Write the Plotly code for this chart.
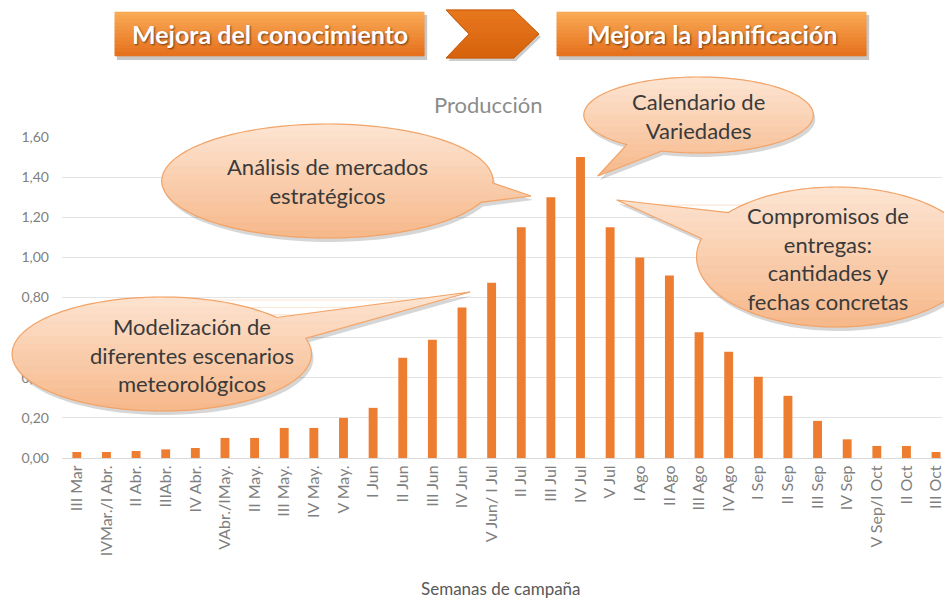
import math
import plotly.graph_objects as go

semanas = ["III Mar", "IVMar./I Abr.", "II Abr.", "IIIAbr.", "IV Abr.", "VAbr./IMay.",
           "II May.", "III May.", "IV May.", "V May.", "I Jun", "II Jun", "III Jun",
           "IV Jun", "V Jun/ I Jul", "II Jul", "III Jul", "IV Jul", "V Jul", "I Ago",
           "II Ago", "III Ago", "IV Ago", "I Sep", "II Sep", "III Sep", "IV Sep",
           "V Sep/I Oct", "II Oct", "III Oct"]
produccion = [0.03, 0.03, 0.035, 0.043, 0.05, 0.10, 0.10, 0.15, 0.15, 0.20, 0.25, 0.50,
              0.59, 0.75, 0.874, 1.15, 1.30, 1.50, 1.15, 1.00, 0.91, 0.627, 0.53, 0.405,
              0.31, 0.185, 0.093, 0.06, 0.06, 0.03]
y_ticks = [0, 0.2, 0.4, 0.6, 0.8, 1.0, 1.2, 1.4, 1.6]

titulo = "Producción"
eje_x = "Semanas de campaña"
etapas = ["Mejora del conocimiento", "Mejora la planificación"]
mensajes = ["Modelización de<br>diferentes escenarios<br>meteorológicos",
            "Análisis de mercados<br>estratégicos",
            "Calendario de<br>Variedades",
            "Compromisos de<br>entregas:<br>cantidades y<br>fechas concretas"]

# the page body adds an 8px margin on every side, so the figure sits 8px in
# from the corner and must stay inside the visible window
OFF = 8
W, H = 952 - 2 * OFF, 606 - 2 * OFF
L, R, T, B = 62, 952 - OFF, 137, 458   # plot area in screen pixels
FONT = "Lato"


def px(x):
    return (x - L) / (R - L)


def py(y):
    return (B - y) / (B - T)


def to_path(pts):
    s = "M " + " L ".join(f"{px(x):.5f},{py(y):.5f}" for x, y in pts)
    return s + " Z"


def clip_strip(poly, y0, y1):
    # Sutherland-Hodgman against two horizontal lines (pixel coords, y down)
    def clip(pts, inside, cut):
        out = []
        for i in range(len(pts)):
            a, b = pts[i - 1], pts[i]
            if inside(b):
                if not inside(a):
                    out.append(cut(a, b))
                out.append(b)
            elif inside(a):
                out.append(cut(a, b))
        return out

    def cut_at(yc):
        def f(a, b):
            t = (yc - a[1]) / (b[1] - a[1])
            return (a[0] + t * (b[0] - a[0]), yc)
        return f

    pts = clip(poly, lambda p: p[1] >= y0, cut_at(y0))
    if pts:
        pts = clip(pts, lambda p: p[1] <= y1, cut_at(y1))
    return pts


def mix(c1, c2, t):
    return "rgb(%d,%d,%d)" % tuple(round(a + (b - a) * t) for a, b in zip(c1, c2))


def gradient_shapes(poly, top, bottom, n=14):
    ys = [p[1] for p in poly]
    ymin, ymax = min(ys), max(ys)
    out = []
    for i in range(n):
        y0 = ymin + (ymax - ymin) * i / n
        y1 = ymin + (ymax - ymin) * (i + 1) / n + 0.6
        part = clip_strip(poly, y0, y1)
        if len(part) < 3:
            continue
        col = mix(top, bottom, (i + 0.5) / n)
        out.append(dict(type="path", path=to_path(part), xref="paper", yref="paper",
                        fillcolor=col, line=dict(width=0.6, color=col), layer="above"))
    return out


def callout(cx, cy, rx, ry, tip, half=11):
    ang = math.degrees(math.atan2((cy - tip[1]) / ry, (tip[0] - cx) / rx))
    a1, a2 = ang + half, ang - half + 360
    pts = []
    for k in range(140):
        t = math.radians(a1 + (a2 - a1) * k / 139)
        pts.append((cx + rx * math.cos(t), cy - ry * math.sin(t)))
    pts.append(tip)
    return pts


fig = go.Figure()
fig.add_trace(go.Bar(x=semanas, y=produccion, marker_color="#ED7D31",
                     marker_line_width=0, name="Producción"))

shapes = []
annotations = []

# top banners
box_top, box_bot = (250, 172, 88), (230, 112, 28)
for x0, x1 in [(115, 425), (558, 868)]:
    shapes.append(dict(type="rect", xref="paper", yref="paper", x0=px(x0 + 2), x1=px(x1 + 3),
                       y0=py(12 + 3), y1=py(56 + 4), fillcolor="rgba(0,0,0,0.22)",
                       line_width=0, layer="above"))
    rect = [(x0, 12), (x1, 12), (x1, 56), (x0, 56)]
    shapes += gradient_shapes(rect, box_top, box_bot, n=12)
chev = [(447, 10), (515, 10), (540, 34), (515, 58), (447, 58), (470, 34)]
shapes.append(dict(type="path", path=to_path([(x + 2, y + 3) for x, y in chev]),
                   xref="paper", yref="paper", fillcolor="rgba(0,0,0,0.2)", line_width=0,
                   layer="above"))
shapes += gradient_shapes(chev, (232, 120, 30), (214, 98, 12), n=10)
shapes.append(dict(type="path", path=to_path(chev), xref="paper", yref="paper",
                   line=dict(color="#C65A08", width=1), layer="above"))

for txt, cx in zip(etapas, [270, 713]):
    annotations.append(dict(text=f"<b>{txt}</b>", x=px(cx), y=py(34), xref="paper",
                            yref="paper", showarrow=False, xanchor="center", yanchor="middle",
                            font=dict(family=FONT, size=25, color="white",
                                      shadow="1px 1px 2px rgba(0,0,0,0.55)")))

# callouts
bubbles = [
    (callout(162, 354, 150, 57, (471, 292), 12), (192, 355)),
    (callout(328, 181, 166, 57, (532, 196), 10), (328, 181)),
    (callout(700, 115, 115, 38, (599, 176), 10), (700, 116)),
    (callout(838, 257, 140, 70, (618, 200), 12), (830, 258)),
]
bub_top, bub_bot = (253, 229, 211), (246, 184, 138)
for (pts, _), txt in zip(bubbles, mensajes):
    shapes.append(dict(type="path", path=to_path([(x + 2, y + 4) for x, y in pts]),
                       xref="paper", yref="paper", fillcolor="rgba(0,0,0,0.16)",
                       line_width=0, layer="above"))
    shapes += gradient_shapes(pts, bub_top, bub_bot, n=16)
    shapes.append(dict(type="path", path=to_path(pts), xref="paper", yref="paper",
                       line=dict(color="#F2A468", width=1.2), layer="above"))
for (_, (tx, ty)), txt in zip(bubbles, mensajes):
    annotations.append(dict(text=txt, x=px(tx), y=py(ty), xref="paper", yref="paper",
                            showarrow=False, xanchor="center", yanchor="middle",
                            font=dict(family=FONT, size=22, color="#3A3A3A")))

annotations.append(dict(text=titulo, x=px(489), y=py(104), xref="paper", yref="paper",
                        showarrow=False, xanchor="center", yanchor="middle",
                        font=dict(family=FONT, size=22, color="#8C8C8C")))
annotations.append(dict(text=eje_x, x=px(502), y=py(588), xref="paper", yref="paper",
                        showarrow=False, xanchor="center", yanchor="middle",
                        font=dict(family=FONT, size=17, color="#595959")))

fig.update_layout(
    width=W, height=H,
    margin=dict(l=L - OFF, r=W + OFF - R, t=T - OFF, b=H + OFF - B),
    paper_bgcolor="white", plot_bgcolor="white",
    separators=",.",
    bargap=0.7,
    showlegend=False,
    shapes=shapes,
    annotations=annotations,
    xaxis=dict(type="category", range=[-0.5, 29.2], tickangle=-90,
               tickfont=dict(family=FONT, size=16, color="#7F7F7F"),
               showline=True, linecolor="#D9D9D9", showgrid=False, ticks=""),
    yaxis=dict(range=[0, 1.6], tickvals=y_ticks, tickformat=".2f",
               tickfont=dict(family=FONT, size=14, color="#7F7F7F"),
               gridcolor="#E3E3E3", zeroline=False, showline=False,
               ticklabelstandoff=12),
)

fig.write_html("out.html")
